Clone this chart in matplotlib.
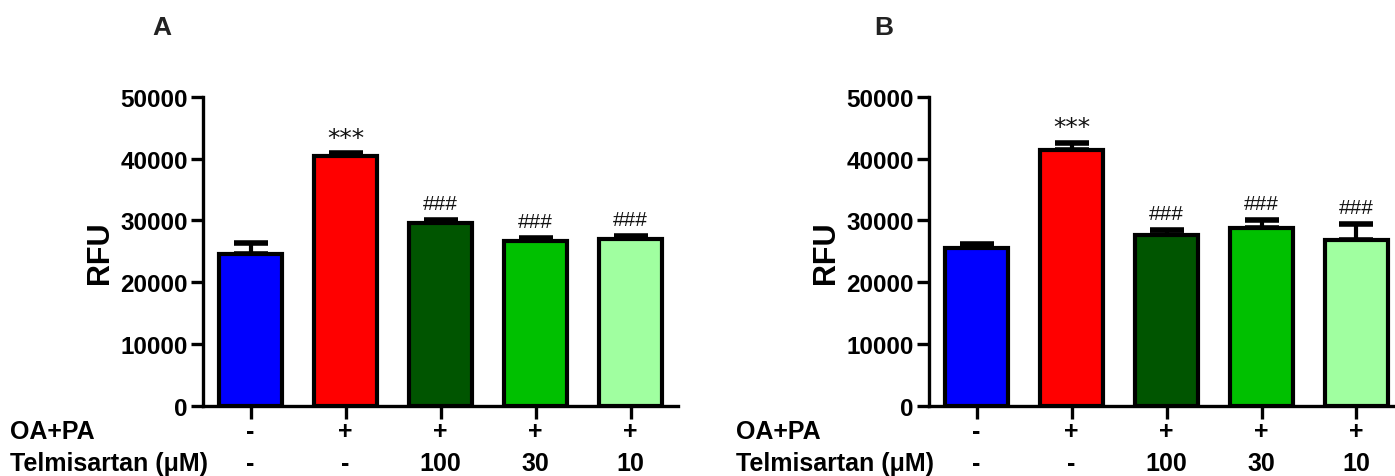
import matplotlib
matplotlib.use("Agg")
import matplotlib.pyplot as plt
import numpy as np

plt.rcParams['font.family'] = ['Liberation Sans', 'DejaVu Sans']

# Data (RFU, mean and upper SEM bar)
groups = ['Control', 'OA+PA', 'Telmi 100', 'Telmi 30', 'Telmi 10']
oa_pa = ['-', '+', '+', '+', '+']
telmisartan = ['-', '-', '100', '30', '10']
colors = ['#0000FF', '#FF0000', '#005500', '#00C000', '#A0FFA0']

rfu_a = [24500, 40400, 29550, 26700, 26950]
err_a = [1800, 500, 550, 500, 550]
marks_a = ['', '***', '###', '###', '###']

rfu_b = [25450, 41450, 27570, 28820, 26760]
err_b = [800, 1150, 920, 1240, 2590]
marks_b = ['', '***', '###', '###', '###']

W, H = 1395, 477
fig = plt.figure(figsize=(W / 100, H / 100), dpi=100)


def draw_panel(left_px, letter, letter_x, values, errors, marks):
    ax = fig.add_axes([left_px / W, 1 - 406.5 / H, 475 / W, 308.5 / H])
    x = np.arange(len(values))
    ax.bar(x, values, width=0.67, color=colors, edgecolor='black',
           linewidth=3, zorder=2)
    # upper error bar only, caps ~half the bar width
    ax.errorbar(x, values, yerr=[np.zeros(len(values)), errors], fmt='none',
                ecolor='black', elinewidth=3, capsize=12.5, capthick=4,
                zorder=1)
    for xi, v, e, m in zip(x, values, errors, marks):
        if m == '***':
            ax.text(xi, v + e + 2500, m, ha='center', va='center',
                    fontsize=18, color='#111111', family='DejaVu Sans')
        elif m:
            ax.text(xi, v + e + 2700, m, ha='center', va='center',
                    fontsize=15, color='#111111')

    ax.set_xlim(-0.5, 4.5)
    ax.set_ylim(0, 50000)
    ax.set_yticks(np.arange(0, 50001, 10000))
    ax.set_xticks(x)
    ax.set_xticklabels([])
    for s in ['top', 'right']:
        ax.spines[s].set_visible(False)
    for s in ['left', 'bottom']:
        ax.spines[s].set_linewidth(2.4)
    ax.tick_params(axis='both', width=2.4, length=9, labelsize=17.5, pad=2)
    for lab in ax.get_yticklabels():
        lab.set_fontweight('bold')
    ax.set_ylabel('RFU', fontsize=22, fontweight='bold', labelpad=4)

    # row labels under the bars
    tr = ax.get_xaxis_transform()
    rows = [(-0.084, 'OA+PA', oa_pa), (-0.185, 'Telmisartan (μM)', telmisartan)]
    for ypos, name, vals in rows:
        ax.text(-2.53, ypos, name, transform=tr, ha='left', va='center',
                fontsize=18, fontweight='bold', clip_on=False)
        for xi, v in zip(x, vals):
            ax.text(xi, ypos, v, transform=tr, ha='center', va='center',
                    fontsize=18, fontweight='bold', clip_on=False)

    fig.text(letter_x / W, 1 - 28 / H, letter, ha='center', va='center',
             fontsize=19, fontweight='bold', color='#222222')
    return ax


draw_panel(203, 'A', 162, rfu_a, err_a, marks_a)
draw_panel(929, 'B', 884, rfu_b, err_b, marks_b)

fig.savefig('out.png', dpi=100)
